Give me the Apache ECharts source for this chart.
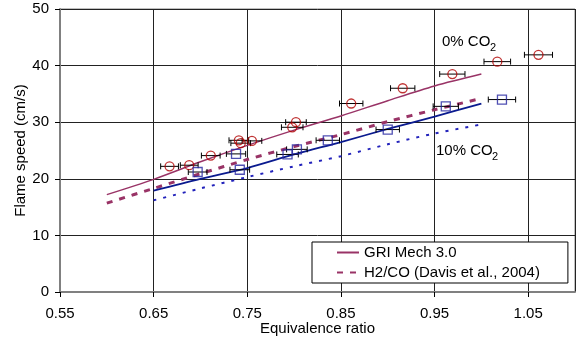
<!DOCTYPE html>
<html>
<head>
<meta charset="utf-8">
<script src="https://cdn.jsdelivr.net/npm/echarts@6/dist/echarts.min.js"></script>
<style>
  html, body { margin: 0; padding: 0; background: #fff; }
  #chart { width: 577px; height: 337px; }
</style>
</head>
<body>
<div id="chart"></div>
<script>
// measured points, 0% CO2 (red circles)
var phi0 = [0.667, 0.688, 0.711, 0.741, 0.743, 0.755, 0.798, 0.802, 0.861, 0.916, 0.969, 1.017, 1.061];
var speed0 = [22.2, 22.4, 24.1, 26.8, 26.3, 26.7, 29.1, 30.0, 33.3, 36.0, 38.5, 40.7, 41.9];
var err0 = [0.0095, 0.0095, 0.010, 0.0105, 0.0105, 0.0105, 0.0115, 0.011, 0.0125, 0.013, 0.0135, 0.0142, 0.015];

// measured points, 10% CO2 (blue squares)
var phi10 = [0.697, 0.738, 0.742, 0.793, 0.803, 0.836, 0.900, 0.962, 1.022];
var speed10 = [21.2, 24.4, 21.6, 24.3, 25.2, 26.8, 28.7, 32.8, 34.0];
var err10 = [0.010, 0.0103, 0.0105, 0.0115, 0.011, 0.0125, 0.0125, 0.0135, 0.0146];

// model curves
var phiModel0 = [0.60, 0.65, 0.70, 0.75, 0.80, 0.85, 0.90, 0.95, 1.00];
var gri0 = [17.2, 19.9, 23.0, 25.9, 28.6, 31.1, 33.8, 36.4, 38.5];
var davis0 = [15.7, 18.3, 20.9, 23.4, 25.7, 27.8, 30.1, 32.2, 34.2];
var phiModel10 = [0.65, 0.70, 0.75, 0.80, 0.85, 0.90, 0.95, 1.00];
var gri10 = [17.9, 20.0, 21.9, 24.3, 26.5, 28.8, 31.0, 33.3];
var davis10 = [16.2, 18.3, 20.3, 22.2, 24.0, 26.1, 28.0, 29.6];

var xTickLabels = ['0.55', '0.65', '0.75', '0.85', '0.95', '1.05'];
var yTicks = [0, 10, 20, 30, 40, 50];

var FONT = 'Liberation Sans, Arial, sans-serif';

function zip(xs, ys, es) {
  return xs.map(function (x, i) {
    return es ? [x, ys[i], es[i]] : [x, ys[i]];
  });
}

function renderErr(params, api) {
  var x = api.value(0), y = api.value(1), e = api.value(2);
  var a = api.coord([x - e, y]);
  var b = api.coord([x + e, y]);
  var cap = 3;
  var st = { stroke: '#000', lineWidth: 1 };
  return {
    type: 'group',
    children: [
      { type: 'line', shape: { x1: a[0], y1: a[1], x2: b[0], y2: b[1] }, style: st },
      { type: 'line', shape: { x1: a[0], y1: a[1] - cap, x2: a[0], y2: a[1] + cap }, style: st },
      { type: 'line', shape: { x1: b[0], y1: b[1] - cap, x2: b[0], y2: b[1] + cap }, style: st }
    ]
  };
}

var chart = echarts.init(document.getElementById('chart'));

var option = {
  animation: false,
  backgroundColor: '#fff',
  textStyle: { fontFamily: FONT },
  grid: {
    left: 60, right: 2, top: 9, bottom: 45,
    outerBoundsMode: 'none',
    show: true, borderColor: '#808080', borderWidth: 1
  },
  legend: {
    data: ['GRI Mech 3.0', 'H2/CO (Davis et al., 2004)'],
    orient: 'vertical',
    left: 312, top: 242,
    backgroundColor: '#fff',
    borderColor: '#000', borderWidth: 1, borderRadius: 0,
    padding: [3, 28, 3, 24],
    itemGap: 5, itemWidth: 22, itemHeight: 14,
    itemStyle: { opacity: 0 },
    textStyle: { fontSize: 15, color: '#000', fontFamily: FONT }
  },
  xAxis: [
    {
      // data axis (hidden)
      type: 'value', min: 0.55, max: 1.1, show: false
    },
    {
      // display axis: offset from 0.55 so ticks land on 0.55, 0.65, ...
      type: 'value', min: 0, max: 0.55, interval: 0.1, position: 'bottom',
      name: 'Equivalence ratio', nameLocation: 'middle', nameGap: 29,
      nameMoveOverlap: false,
      nameTextStyle: { fontSize: 15, color: '#000', fontFamily: FONT },
      axisLine: { show: true, lineStyle: { color: '#808080', width: 2 } },
      axisTick: { show: true, length: 5, lineStyle: { color: '#000' } },
      axisLabel: {
        fontSize: 15, color: '#000', margin: 14, showMaxLabel: false,
        formatter: function (v, i) { return xTickLabels[i] || ''; }
      },
      splitLine: { show: true, lineStyle: { color: '#222', width: 1 } }
    }
  ],
  yAxis: {
    type: 'value', min: yTicks[0], max: yTicks[yTicks.length - 1], interval: 10,
    name: 'Flame speed (cm/s)', nameLocation: 'middle', nameGap: 32,
    nameMoveOverlap: false,
    nameTextStyle: { fontSize: 15, color: '#000', fontFamily: FONT },
    axisLine: { show: true, lineStyle: { color: '#808080', width: 2 } },
    axisTick: { show: true, length: 5, lineStyle: { color: '#000' } },
    axisLabel: { fontSize: 15, color: '#000', margin: 11 },
    splitLine: { show: true, lineStyle: { color: '#222', width: 1 } }
  },
  graphic: [
    { type: 'text', left: 442, top: 34, style: { text: '0% CO', fontSize: 15, fontFamily: FONT, fill: '#000' } },
    { type: 'text', left: 490, top: 42, style: { text: '2', fontSize: 11, fontFamily: FONT, fill: '#000' } },
    { type: 'text', left: 436, top: 143, style: { text: '10% CO', fontSize: 15, fontFamily: FONT, fill: '#000' } },
    { type: 'text', left: 492, top: 151, style: { text: '2', fontSize: 11, fontFamily: FONT, fill: '#000' } }
  ],
  series: [
    {
      name: 'GRI Mech 3.0', type: 'line', xAxisIndex: 0,
      data: zip(phiModel0, gri0), symbol: 'none', smooth: 0.3,
      lineStyle: { color: '#993366', width: 1.5 }, itemStyle: { color: '#993366' }, z: 3
    },
    {
      name: 'H2/CO (Davis et al., 2004)', type: 'line', xAxisIndex: 0,
      data: zip(phiModel0, davis0), symbol: 'none', smooth: 0.3,
      lineStyle: { color: '#993366', width: 3, type: [6, 7] }, itemStyle: { color: '#993366' }, z: 3
    },
    {
      name: 'GRI 10%', type: 'line', xAxisIndex: 0,
      data: zip(phiModel10, gri10), symbol: 'none', smooth: 0.3,
      lineStyle: { color: '#0a1a8f', width: 1.8 }, z: 3
    },
    {
      name: 'Davis 10%', type: 'line', xAxisIndex: 0,
      data: zip(phiModel10, davis10), symbol: 'none', smooth: 0.3,
      lineStyle: { color: '#2222bb', width: 2, type: [3, 7] }, z: 3
    },
    {
      name: 'err0', type: 'custom', xAxisIndex: 0, renderItem: renderErr,
      data: zip(phi0, speed0, err0), encode: { x: 0, y: 1 }, silent: true, z: 4
    },
    {
      name: 'err10', type: 'custom', xAxisIndex: 0, renderItem: renderErr,
      data: zip(phi10, speed10, err10), encode: { x: 0, y: 1 }, silent: true, z: 4
    },
    {
      name: 'exp0', type: 'scatter', xAxisIndex: 0,
      data: zip(phi0, speed0), symbol: 'circle', symbolSize: 9,
      itemStyle: { color: 'rgba(0,0,0,0)', borderColor: '#b00000', borderWidth: 1.3 }, z: 5
    },
    {
      name: 'exp10', type: 'scatter', xAxisIndex: 0,
      data: zip(phi10, speed10), symbol: 'rect', symbolSize: 9,
      itemStyle: { color: 'rgba(0,0,0,0)', borderColor: '#2424a0', borderWidth: 1.3 }, z: 5
    }
  ]
};

chart.setOption(option);
</script>
</body>
</html>
